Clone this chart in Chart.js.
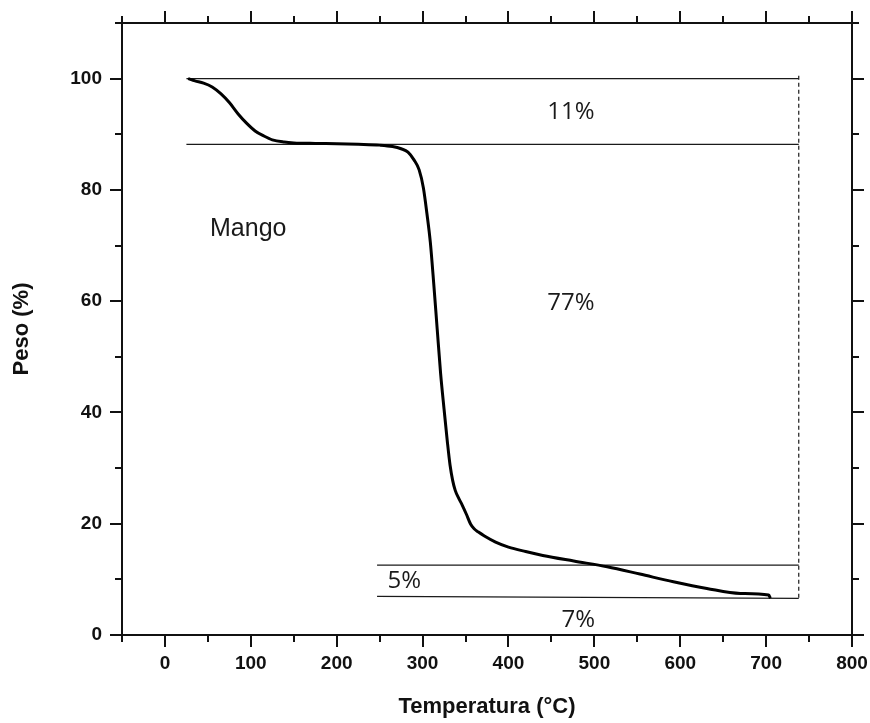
<!DOCTYPE html>
<html>
<head>
<meta charset="utf-8">
<title>Peso vs Temperatura</title>
<script src="https://cdn.jsdelivr.net/npm/chart.js@4"></script>
<style>
  html, body { margin: 0; padding: 0; background: #ffffff; }
  #wrap { width: 870px; height: 723px; }
</style>
</head>
<body>
<div id="wrap"><canvas id="tga" width="870" height="723"></canvas></div>
<script>
// Thermogravimetric curve of mango sample: temperature (°C) and residual weight (%)
const temperatura = [27, 35, 45, 55, 65, 75, 85, 95, 105, 115, 125, 139, 150, 175, 200, 225, 250, 265, 275, 283, 290, 296, 301, 305, 309, 313, 317, 321, 325, 329, 332, 335, 338, 342, 346, 351, 356, 360, 365, 372, 385, 400, 420, 440, 476, 515, 553, 592, 631, 670, 703, 705];
const peso        = [100, 99.6, 99.2, 98.5, 97.3, 95.7, 93.7, 92.0, 90.6, 89.7, 89.0, 88.6, 88.45, 88.35, 88.3, 88.2, 88.05, 87.8, 87.4, 86.8, 85.4, 83.6, 80.3, 75.8, 70.6, 63.1, 55.0, 47.0, 40.6, 34.5, 30.5, 27.8, 26.0, 24.6, 23.4, 21.7, 19.9, 19.1, 18.5, 17.8, 16.7, 15.8, 15.0, 14.3, 13.3, 12.26, 10.95, 9.57, 8.37, 7.47, 7.18, 6.6];

// Weight-loss step guides
const stepStartT = [25, 25, 247, 247];
const stepEndT   = [738, 738, 738, 738];
const stepStartW = [100, 88.2, 12.56, 6.95];
const stepEndW   = [100, 88.2, 12.56, 6.6];
const dropT = [738, 738];
const dropW = [100.5, 6.6];

// Axis ticks
const xTicks = [0, 100, 200, 300, 400, 500, 600, 700, 800];
const yTicks = [0, 20, 40, 60, 80, 100];
const xRange = [-50, 800];
const yRange = [0, 110];

// Annotations (value anchors in data units)
const noteTexts = ['11%', '77%', '5%', '7%', 'Mango'];
const noteT     = [472.7, 472.7, 278.7, 481.4, 97];
const noteW     = [92.7, 58.44, 8.38, 1.49, 71.67];

const curve = temperatura.map((t, i) => ({ x: t, y: peso[i] }));

const guideSets = stepStartT.map((t, i) => ({
  data: [{ x: t, y: stepStartW[i] }, { x: stepEndT[i], y: stepEndW[i] }],
  borderColor: '#1a1a1a',
  borderWidth: 1.2,
  pointRadius: 0,
  showLine: true,
  fill: false
}));

const frame = {
  id: 'frame',
  afterDraw(chart) {
    const { ctx, chartArea: a, scales: { x, y } } = chart;
    ctx.save();
    ctx.strokeStyle = '#111';
    ctx.lineWidth = 2;
    ctx.strokeRect(a.left, a.top, a.right - a.left, a.bottom - a.top);
    ctx.beginPath();
    for (let v = xRange[0]; v <= xRange[1]; v += 50) {
      const px = Math.round(x.getPixelForValue(v));
      const len = (v % 100 === 0) ? 12 : 7;
      ctx.moveTo(px, a.bottom); ctx.lineTo(px, a.bottom + len);
      ctx.moveTo(px, a.top); ctx.lineTo(px, a.top - len);
    }
    for (let v = yRange[0]; v <= yRange[1]; v += 10) {
      const py = Math.round(y.getPixelForValue(v));
      const len = (v % 20 === 0) ? 12 : 7;
      ctx.moveTo(a.left, py); ctx.lineTo(a.left - len, py);
      ctx.moveTo(a.right, py); ctx.lineTo(a.right + len, py);
    }
    ctx.stroke();

    // Annotations
    ctx.fillStyle = '#1a1a1a';
    ctx.textAlign = 'center';
    ctx.textBaseline = 'alphabetic';
    noteTexts.forEach((txt, i) => {
      ctx.font = txt === 'Mango' ? '25px "Liberation Sans", Arial, sans-serif'
                                 : '24px "Open Sans", "Noto Sans", sans-serif';
      ctx.fillText(txt, x.getPixelForValue(noteT[i]), y.getPixelForValue(noteW[i]));
    });
    ctx.restore();
  }
};

const noEdgePadding = s => {
  s.paddingLeft = 0; s.paddingRight = 0; s.paddingTop = 0; s.paddingBottom = 0;
};

new Chart(document.getElementById('tga'), {
  type: 'scatter',
  data: {
    datasets: [
      {
        data: curve,
        borderColor: '#000',
        borderWidth: 3,
        pointRadius: 0,
        showLine: true,
        cubicInterpolationMode: 'monotone',
        fill: false
      },
      ...guideSets,
      {
        data: dropT.map((t, i) => ({ x: t, y: dropW[i] })),
        borderColor: '#1a1a1a',
        borderWidth: 1.2,
        borderDash: [4, 3],
        pointRadius: 0,
        showLine: true,
        fill: false
      }
    ]
  },
  options: {
    responsive: false,
    animation: false,
    layout: { padding: { left: 0, top: 23, right: 18, bottom: 0 } },
    plugins: { legend: { display: false }, tooltip: { enabled: false } },
    scales: {
      x: {
        type: 'linear',
        min: xRange[0], max: xRange[1],
        afterBuildTicks: s => { s.ticks = xTicks.map(v => ({ value: v })); },
        afterFit: s => { s.height = 88; noEdgePadding(s); },
        grid: { display: false, drawTicks: false },
        border: { display: false },
        ticks: {
          color: '#111',
          padding: 17,
          maxRotation: 0,
          font: { family: '"Liberation Sans", Arial, sans-serif', size: 19, weight: 'bold' }
        },
        title: {
          display: true,
          text: 'Temperatura (°C)',
          color: '#111',
          padding: { top: 0, bottom: 3 },
          font: { family: '"Liberation Sans", Arial, sans-serif', size: 22, weight: 'bold' }
        }
      },
      y: {
        type: 'linear',
        min: yRange[0], max: yRange[1],
        afterBuildTicks: s => { s.ticks = yTicks.map(v => ({ value: v })); },
        afterFit: s => { s.width = 122; noEdgePadding(s); },
        grid: { display: false, drawTicks: false },
        border: { display: false },
        ticks: {
          color: '#111',
          padding: 20,
          font: { family: '"Liberation Sans", Arial, sans-serif', size: 19, weight: 'bold' }
        },
        title: {
          display: true,
          text: 'Peso (%)',
          color: '#111',
          padding: { top: 9, bottom: 0 },
          font: { family: '"Liberation Sans", Arial, sans-serif', size: 22, weight: 'bold' }
        }
      }
    }
  },
  plugins: [frame]
});
</script>
</body>
</html>
